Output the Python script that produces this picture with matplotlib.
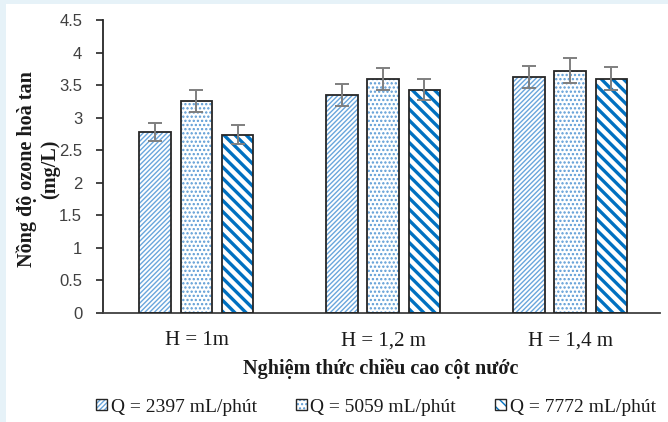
import matplotlib
matplotlib.use("Agg")
import matplotlib.pyplot as plt
import numpy as np
from matplotlib.legend_handler import HandlerTuple

groups = ["H = 1m", "H = 1,2 m", "H = 1,4 m"]
series = ["Q = 2397 mL/phút", "Q = 5059 mL/phút", "Q = 7772 mL/phút"]
q2397 = [2.78, 3.35, 3.62]
q5059 = [3.25, 3.60, 3.72]
q7772 = [2.74, 3.43, 3.60]
err2397 = [0.14, 0.17, 0.17]
err5059 = [0.17, 0.17, 0.19]
err7772 = [0.14, 0.16, 0.18]
yticks = [0, 0.5, 1, 1.5, 2, 2.5, 3, 3.5, 4, 4.5]
ytick_labels = ["0", "0.5", "1", "1.5", "2", "2.5", "3", "3.5", "4", "4.5"]

values = [q2397, q5059, q7772]
errors = [err2397, err5059, err7772]
hatches = ["///////", "....", "\\\\\\"]
hatch_colors = ["#6aa6dc", "#5b9bd5", "#0070c0"]
hatch_lws = [1.0, 1.1, 2.4]

serif = ["Liberation Serif", "DejaVu Serif"]
sans = ["Liberation Sans", "DejaVu Sans"]

fig = plt.figure(figsize=(6.68, 4.22), dpi=100)
fig.patch.set_facecolor("white")
fig.patches.append(plt.Rectangle((0, 0), 6 / 668, 1, transform=fig.transFigure,
                                 facecolor="#e6f2f8", edgecolor="none", zorder=0))
fig.patches.append(plt.Rectangle((0, 1 - 4 / 422), 1, 4 / 422, transform=fig.transFigure,
                                 facecolor="#e6f2f8", edgecolor="none", zorder=0))

ax = fig.add_axes([103 / 668, 1 - 313 / 422, (660 - 103) / 668, (313 - 20) / 422])
x = np.arange(len(groups))
width = 0.17
offsets = [-0.22, 0.0, 0.22]

handles = []
for i in range(3):
    with plt.rc_context({"hatch.linewidth": hatch_lws[i], "hatch.color": hatch_colors[i]}):
        b = ax.bar(x + offsets[i], values[i], width, color="white",
                   edgecolor=hatch_colors[i], hatch=hatches[i], linewidth=0, zorder=2)
        for p in b:
            if hasattr(p, "set_hatch_linewidth"):
                p.set_hatch_linewidth(hatch_lws[i])
    ax.bar(x + offsets[i], values[i], width, fill=False, edgecolor="#262626",
           linewidth=1.3, zorder=3)
    ax.errorbar(x + offsets[i], values[i], yerr=errors[i], fmt="none",
                ecolor="#7f7f7f", elinewidth=1.4, capsize=5, capthick=1.4, zorder=4)
    with plt.rc_context({"hatch.linewidth": hatch_lws[i], "hatch.color": hatch_colors[i]}):
        h = matplotlib.patches.Patch(facecolor="white", edgecolor=hatch_colors[i],
                                     hatch=hatches[i], linewidth=0)
        if hasattr(h, "set_hatch_linewidth"):
            h.set_hatch_linewidth(hatch_lws[i])
    frame = matplotlib.patches.Patch(fill=False, edgecolor="#262626", linewidth=1.0)
    handles.append((h, frame))

ax.set_xlim(-0.5, 2.48)
ax.set_ylim(0, 4.5)
ax.set_yticks(yticks)
ax.set_yticklabels(ytick_labels, fontfamily=sans, fontsize=12, color="#404040")
ax.set_xticks(x)
ax.set_xticklabels(groups, fontfamily=serif, fontsize=15, color="#1a1a1a")
ax.tick_params(axis="x", length=0, pad=13)
ax.tick_params(axis="y", direction="out", length=5, width=1.2, color="#262626", pad=10)
for s in ["top", "right"]:
    ax.spines[s].set_visible(False)
ax.spines["left"].set_color("#262626")
ax.spines["left"].set_linewidth(1.3)
ax.spines["bottom"].set_color("#404040")
ax.spines["bottom"].set_linewidth(1.3)

fig.text(381 / 668, 1 - 369 / 422, "Nghiệm thức chiều cao cột nước", ha="center", va="center",
         fontfamily=serif, fontsize=14.5, fontweight="bold", color="#1a1a1a")
fig.text(38 / 668, 1 - 169 / 422, "Nồng độ ozone hoà tan\n(mg/L)", ha="center", va="center",
         rotation=90, multialignment="center", linespacing=1.2,
         fontfamily=serif, fontsize=14.5, fontweight="bold", color="#1a1a1a")

fig.legend(handles, series, loc="center", bbox_to_anchor=(376 / 668, 1 - 407 / 422),
           ncol=3, frameon=False, prop={"family": serif, "size": 14},
           handlelength=0.55, handleheight=0.55, handletextpad=0.2, columnspacing=2.0,
           handler_map={tuple: HandlerTuple(ndivide=1, pad=0)}, labelcolor="#1a1a1a")

fig.savefig("out.png", dpi=100)
